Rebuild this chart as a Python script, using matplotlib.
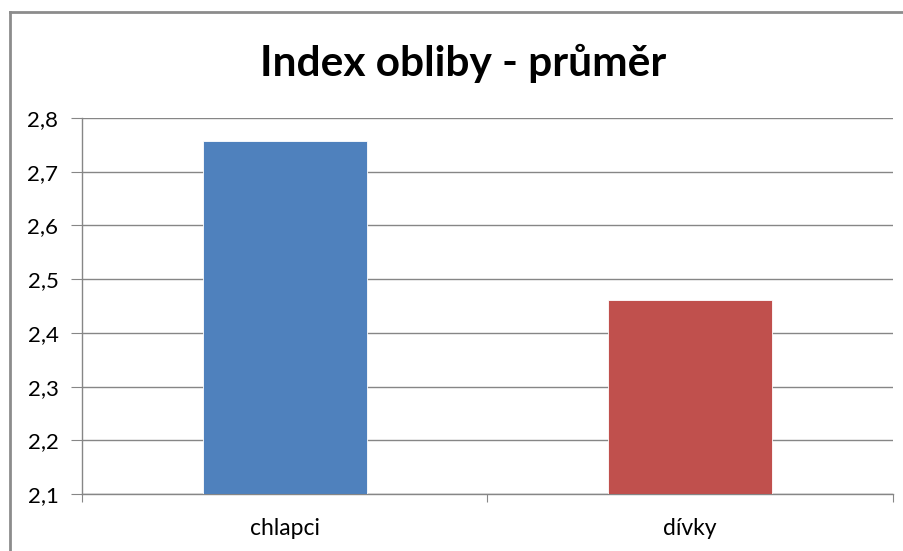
import matplotlib
matplotlib.use("Agg")
import matplotlib.pyplot as plt
from matplotlib.lines import Line2D
from matplotlib.ticker import FixedLocator, FuncFormatter

categories = ["chlapci", "dívky"]
values = [2.758, 2.462]
colors = ["#4F81BD", "#C0504D"]
y_ticks = [2.1, 2.2, 2.3, 2.4, 2.5, 2.6, 2.7, 2.8]
title = "Index obliby - průměr"

plt.rcParams["font.family"] = ["Lato", "DejaVu Sans"]

fig = plt.figure(figsize=(9.04, 5.51), dpi=100)
ax = fig.add_axes([0.0907, 0.1034, 0.8971, 0.6824])

x = list(range(len(categories)))
ax.bar(x, [v - y_ticks[0] for v in values], bottom=y_ticks[0], width=0.405,
       color=colors, edgecolor="white", linewidth=0.6, zorder=3)

ax.set_xlim(-0.5, len(categories) - 0.5)
ax.set_ylim(y_ticks[0], y_ticks[-1])
ax.yaxis.set_major_locator(FixedLocator(y_ticks))
ax.yaxis.set_major_formatter(FuncFormatter(lambda v, p: f"{v:.1f}".replace(".", ",")))
ax.grid(axis="y", color="#868686", linewidth=1.0, zorder=0)

ax.set_xticks([-0.5, 0.5, 1.5])
ax.set_xticklabels([])
ax.set_xticks(x, minor=True)
ax.set_xticklabels(categories, minor=True)
ax.tick_params(axis="x", which="minor", length=0, pad=17, labelsize=16.5)
ax.tick_params(axis="x", which="major", length=6, color="#868686", direction="out")
ax.tick_params(axis="y", length=8, color="#868686", labelsize=16, pad=9, direction="out")

for side in ["top", "right"]:
    ax.spines[side].set_visible(False)
for side in ["left", "bottom"]:
    ax.spines[side].set_color("#868686")
    ax.spines[side].set_linewidth(1.0)

fig.text(0.512, 0.885, title, ha="center", va="center", fontsize=30.5, fontweight="bold")

# outer chart frame (left and top edges)
fx, fy = 9.5 / 904, 1 - 12 / 551
fig.lines.append(Line2D([fx, fx], [0, fy], transform=fig.transFigure,
                        color="#8C8C8C", linewidth=2.0))
fig.lines.append(Line2D([fx, 1], [fy, fy], transform=fig.transFigure,
                        color="#8C8C8C", linewidth=2.0))

fig.savefig("out.png", dpi=100)
